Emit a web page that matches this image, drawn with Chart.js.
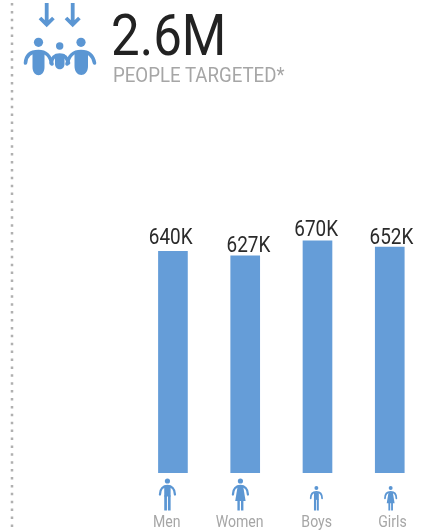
<!DOCTYPE html>
<html><head><meta charset="utf-8">
<script src="https://cdn.jsdelivr.net/npm/chart.js@4"></script>
<style>
html,body{margin:0;padding:0;background:#fff;width:432px;height:531px;overflow:hidden}
#c{position:absolute;left:0;top:0}
.t{position:absolute;white-space:nowrap;transform-origin:0 0;font-family:Roboto,sans-serif}
svg{position:absolute;left:0;top:0}
</style></head><body>
<canvas id="c" width="432" height="531" style="width:432px;height:531px"></canvas>
<svg width="432" height="531" fill="#5B96D3">
<line x1="12" y1="3" x2="12" y2="531" stroke="#B0B0B0" stroke-width="2.500" stroke-dasharray="2.500 5.400"/>
<g stroke="#5B96D3" stroke-width="3.800" fill="none" stroke-linejoin="miter">
<path d="M46.700 3V24M40 18L46.700 24.500L53.400 18"/>
<path d="M72.700 3V24M66 18L72.700 24.500L79.400 18"/>
</g>
<circle cx="38.500" cy="42.300" r="4.600"/><circle cx="59.700" cy="46" r="3.700"/><circle cx="81" cy="42.300" r="4.600"/>
<g stroke="#5B96D3" stroke-width="3.600" fill="none" stroke-linecap="round">
<path d="M25.500 63C26 55 31 51.500 38.500 51.500C46 51.500 50 55 52 64"/>
<path d="M67 64C69 55 73 51.500 81 51.500C88 51.500 93 55 94.500 63"/>
<path d="M51 63C52 57 56 55 59.700 55C63 55 67 57 68.500 63"/>
</g>
<path d="M32.500 52H44.500V67C44.500 78 32.500 78 32.500 67Z"/>
<path d="M74.500 52H88V66C88 78 74.500 78 74.500 66Z"/>
<path d="M55 54H64.500V64C64.500 71 55 71 55 64Z"/>
</svg>
<div class="t" id="h1" style="left:110.500px;top:1px;font-size:58px;color:#222;line-height:68px;transform:scaleX(.88)">2.6M</div>
<div class="t" id="h2" style="left:112.500px;top:63px;font-size:20.500px;color:#A6A6A6;line-height:24px;transform:scaleX(.91)">PEOPLE TARGETED*</div>
<script>
const categories = ['Men','Women','Boys','Girls'];
const targeted = [640,627,670,652];
const valueLabels = ['640K','627K','670K','652K'];

const iconStyle = [[1,false],[1,true],[.76,false],[.76,true]];
const valueNudge = [[-2.3,-7],[3.2,-4],[-1.3,-5],[1.7,-3.5]];
const tickNudge = [-6.1,-5.6,-.8,2.7];
const iconNudge = [-5.5,-4.8,-1.1,.9];

function person(ctx, x, footY, s, female){
  ctx.save();
  ctx.translate(x, footY);
  ctx.scale(s, s);
  ctx.fillStyle = '#5B96D3';
  ctx.strokeStyle = '#5B96D3';
  ctx.lineCap = 'round';
  ctx.beginPath(); ctx.arc(0,-29.500,2.600,0,Math.PI*2); ctx.fill();
  ctx.lineWidth = 2.300;
  ctx.beginPath();
  ctx.moveTo(-7.500,-16); ctx.bezierCurveTo(-7.500,-22,-4,-24.500,0,-24.500);
  ctx.bezierCurveTo(4,-24.500,7.500,-22,7.500,-16); ctx.stroke();
  if(female){
    ctx.beginPath(); ctx.moveTo(-2.800,-24); ctx.lineTo(2.800,-24); ctx.lineTo(5.200,-9.500); ctx.lineTo(-5.200,-9.500); ctx.closePath(); ctx.fill();
    ctx.fillRect(-3,-10,2.400,10); ctx.fillRect(.6,-10,2.400,10);
  } else {
    ctx.fillRect(-3.200,-24,6.400,10);
    ctx.fillRect(-3.200,-15,2.700,15); ctx.fillRect(.5,-15,2.700,15);
  }
  ctx.restore();
}

const overlay = {
  id:'overlay',
  afterDatasetsDraw(chart){
    const {ctx, scales:{x,y}} = chart;
    targeted.forEach((v,i)=>{
      const px = x.getPixelForValue(i);
      ctx.save();
      ctx.textAlign='center'; ctx.textBaseline='alphabetic';
      ctx.translate(px+valueNudge[i][0], y.getPixelForValue(v)+valueNudge[i][1]);
      ctx.scale(.88,1);
      ctx.font='21.5px Roboto'; ctx.fillStyle='#2A2A2A';
      ctx.fillText(valueLabels[i],0,0);
      ctx.restore();
      ctx.save();
      ctx.textAlign='center'; ctx.textBaseline='alphabetic';
      ctx.translate(px+tickNudge[i], 526.5);
      ctx.scale(.88,1);
      ctx.font='16px Roboto'; ctx.fillStyle='#A6A6A6';
      ctx.fillText(categories[i],0,0);
      ctx.restore();
      person(ctx, px+iconNudge[i], 510.5, iconStyle[i][0], iconStyle[i][1]);
    });
  }
};

new Chart(document.getElementById('c'),{
  type:'bar',
  data:{labels:categories,datasets:[{data:targeted,backgroundColor:'#659DD8',barThickness:29}]},
  options:{
    responsive:false,animation:false,devicePixelRatio:1,
    layout:{padding:{left:136.8,right:6.1,top:126.5,bottom:58}},
    plugins:{legend:{display:false},tooltip:{enabled:false}},
    scales:{
      x:{display:false,grid:{display:false}},
      y:{display:false,min:0,max:1000,grid:{display:false}}
    }
  },
  plugins:[overlay]
});
</script>
</body></html>
